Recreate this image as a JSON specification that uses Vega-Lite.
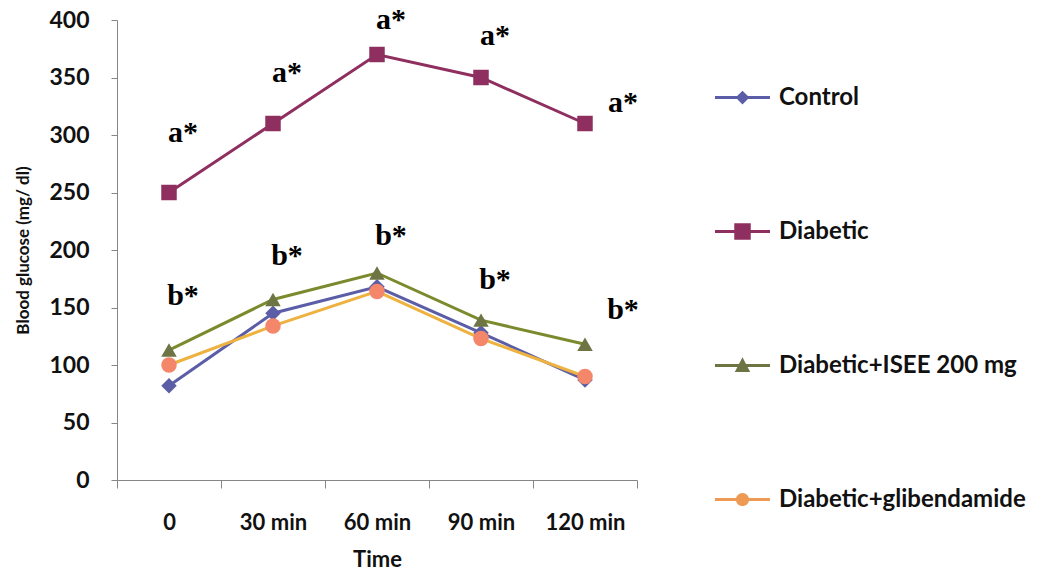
{
  "$schema": "https://vega.github.io/schema/vega-lite/v6.json",
  "autosize": {"type": "none"},
  "padding": {"left": 117, "top": 20, "right": 411, "bottom": 100},
  "width": 520,
  "height": 460,
  "background": "white",
  "config": {"view": {"stroke": null}, "font": "Lato"},
  "resolve": {"scale": {"fill": "independent", "shape": "independent"}},
  "datasets": {
    "glucose": [
      {"time": "0", "series": "Control", "value": 82},
      {"time": "30 min", "series": "Control", "value": 145},
      {"time": "60 min", "series": "Control", "value": 168},
      {"time": "90 min", "series": "Control", "value": 128},
      {"time": "120 min", "series": "Control", "value": 87},
      {"time": "0", "series": "Diabetic", "value": 250},
      {"time": "30 min", "series": "Diabetic", "value": 310},
      {"time": "60 min", "series": "Diabetic", "value": 370},
      {"time": "90 min", "series": "Diabetic", "value": 350},
      {"time": "120 min", "series": "Diabetic", "value": 310},
      {"time": "0", "series": "Diabetic+ISEE 200 mg", "value": 113},
      {"time": "30 min", "series": "Diabetic+ISEE 200 mg", "value": 157},
      {"time": "60 min", "series": "Diabetic+ISEE 200 mg", "value": 180},
      {"time": "90 min", "series": "Diabetic+ISEE 200 mg", "value": 139},
      {"time": "120 min", "series": "Diabetic+ISEE 200 mg", "value": 118},
      {"time": "0", "series": "Diabetic+glibendamide", "value": 100},
      {"time": "30 min", "series": "Diabetic+glibendamide", "value": 134},
      {"time": "60 min", "series": "Diabetic+glibendamide", "value": 164},
      {"time": "90 min", "series": "Diabetic+glibendamide", "value": 123},
      {"time": "120 min", "series": "Diabetic+glibendamide", "value": 90}
    ],
    "notes": [
      {"time": "0", "label": "a*", "value": 302},
      {"time": "30 min", "label": "a*", "value": 354},
      {"time": "60 min", "label": "a*", "value": 400},
      {"time": "90 min", "label": "a*", "value": 386},
      {"time": "120 min", "label": "a*", "value": 328},
      {"time": "0", "label": "b*", "value": 160},
      {"time": "30 min", "label": "b*", "value": 195},
      {"time": "60 min", "label": "b*", "value": 212},
      {"time": "90 min", "label": "b*", "value": 174},
      {"time": "120 min", "label": "b*", "value": 148}
    ]
  },
  "encoding": {
    "x": {
      "field": "time", "type": "nominal",
      "sort": ["0", "30 min", "60 min", "90 min", "120 min"],
      "scale": {"type": "band", "paddingInner": 0, "paddingOuter": 0},
      "axis": {
        "title": "Time", "tickBand": "extent", "labelAngle": 0,
        "domainColor": "#868686", "tickColor": "#868686", "tickSize": 8,
        "labelFont": "Lato", "labelFontWeight": "bold", "labelFontSize": 22, "labelColor": "#111",
        "labelPadding": 24,
        "titleFont": "Lato", "titleFontWeight": "bold", "titleFontSize": 22, "titleColor": "#111",
        "titlePadding": 16, "grid": false
      }
    },
    "y": {
      "field": "value", "type": "quantitative",
      "scale": {"domain": [0, 400]},
      "axis": {
        "title": "Blood glucose (mg/ dl)", "values": [0, 50, 100, 150, 200, 250, 300, 350, 400],
        "domainColor": "#868686", "tickColor": "#868686", "tickSize": 6,
        "labelFont": "Lato", "labelFontWeight": "bold", "labelFontSize": 23, "labelColor": "#111",
        "labelPadding": 22,
        "titleFont": "Lato", "titleFontWeight": "bold", "titleFontSize": 17, "titleColor": "#111",
        "titlePadding": 16, "grid": false
      }
    }
  },
  "layer": [
    {
      "data": {"name": "glucose"},
      "mark": {"type": "line", "strokeWidth": 3},
      "encoding": {
        "detail": {"field": "series"},
        "stroke": {
          "field": "series", "type": "nominal",
          "scale": {
            "domain": ["Control", "Diabetic", "Diabetic+ISEE 200 mg", "Diabetic+glibendamide", "line"],
            "range": ["#5B5EA6", "#8E2F5F", "#7C8A2E", "#EDB23F", "#000000"]
          },
          "legend": null
        }
      }
    },
    {
      "data": {"name": "glucose"},
      "mark": {"type": "point", "filled": true, "opacity": 1, "strokeWidth": 0, "size": 240},
      "encoding": {
        "shape": {
          "field": "series", "type": "nominal",
          "scale": {
            "domain": ["Control", "Diabetic", "Diabetic+ISEE 200 mg", "Diabetic+glibendamide", "marker"],
            "range": ["diamond", "square", "triangle-up", "circle", "circle"]
          },
          "legend": null
        },
        "fill": {
          "field": "series", "type": "nominal",
          "scale": {
            "domain": ["Control", "Diabetic", "Diabetic+ISEE 200 mg", "Diabetic+glibendamide", "marker"],
            "range": ["#5B5EA6", "#8E2F5F", "#6E7444", "#F4866A", "#000000"]
          },
          "legend": null
        }
      }
    },
    {
      "data": {"name": "glucose"},
      "mark": {"type": "point", "filled": true, "opacity": 0, "strokeWidth": 0, "size": 10},
      "encoding": {
        "shape": {
          "field": "series", "type": "nominal",
          "scale": {
            "domain": ["Control", "Diabetic", "Diabetic+ISEE 200 mg", "Diabetic+glibendamide"],
            "range": [
              "M-1,-0.055H1V0.055H-1Z M0,-0.25L0.25,0L0,0.25L-0.25,0Z",
              "M-1,-0.055H1V0.055H-1Z M-0.3,-0.3H0.3V0.3H-0.3Z",
              "M-1,-0.055H1V0.055H-1Z M0,-0.3L0.28,0.24H-0.28Z",
              "M-1,-0.055H1V0.055H-1Z M0.24,0A0.24,0.24 0 1,1 -0.24,0A0.24,0.24 0 1,1 0.24,0Z"
            ]
          },
          "legend": {
            "title": null, "orient": "none", "legendX": 598, "legendY": 50,
            "padding": 0, "rowPadding": 94, "symbolSize": 3025, "symbolStrokeWidth": 0, "symbolOpacity": 1,
            "labelOffset": 9, "labelFont": "Lato", "labelFontWeight": "bold",
            "labelFontSize": 24, "labelColor": "#111", "labelLimit": 400
          }
        },
        "fill": {
          "field": "series", "type": "nominal",
          "scale": {
            "domain": ["Control", "Diabetic", "Diabetic+ISEE 200 mg", "Diabetic+glibendamide"],
            "range": ["#5B5EA6", "#8E2F5F", "#6E7444", "#EE9A55"]
          },
          "legend": {
            "title": null, "orient": "none", "legendX": 598, "legendY": 50,
            "padding": 0, "rowPadding": 94, "symbolSize": 3025, "symbolStrokeWidth": 0, "symbolOpacity": 1,
            "labelOffset": 9, "labelFont": "Lato", "labelFontWeight": "bold",
            "labelFontSize": 24, "labelColor": "#111", "labelLimit": 400
          }
        }
      }
    },
    {
      "data": {"name": "notes"},
      "transform": [{"filter": "datum.time !== '120 min'"}],
      "mark": {"type": "text", "font": "Liberation Serif", "fontWeight": "bold", "fontSize": 30, "dx": 14, "baseline": "middle", "color": "#000"},
      "encoding": {"text": {"field": "label"}}
    },
    {
      "data": {"name": "notes"},
      "transform": [{"filter": "datum.time === '120 min'"}],
      "mark": {"type": "text", "font": "Liberation Serif", "fontWeight": "bold", "fontSize": 30, "dx": 38, "baseline": "middle", "color": "#000"},
      "encoding": {"text": {"field": "label"}}
    }
  ]
}
